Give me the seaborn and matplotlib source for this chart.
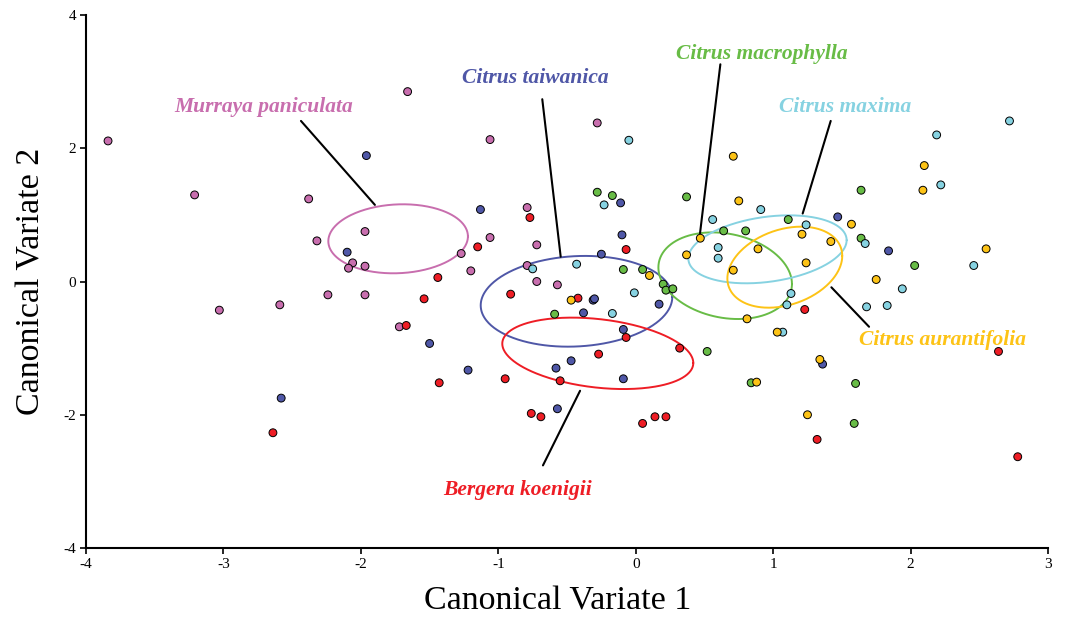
import numpy as np
import pandas as pd
import matplotlib
matplotlib.use("Agg")
import matplotlib.pyplot as plt
import seaborn as sns

# ---------------- data ----------------
species = ["Murraya paniculata", "Citrus taiwanica", "Bergera koenigii",
           "Citrus macrophylla", "Citrus maxima", "Citrus aurantifolia"]

murraya_x = [-3.84, -3.21, -2.38, -1.97, -2.32, -2.06, -2.09, -1.97, -2.24, -1.97, -3.03, -2.59,
             -1.72, -1.66, -1.06, -0.79, -1.06, -1.27, -0.72, -1.20, -0.79, -0.72, -0.28, -0.57]
murraya_y = [2.11, 1.30, 1.24, 0.75, 0.61, 0.28, 0.20, 0.23, -0.20, -0.20, -0.43, -0.35,
             -0.68, 2.85, 2.13, 1.11, 0.66, 0.42, 0.55, 0.16, 0.24, 0.00, 2.38, -0.05]

taiwanica_x = [-1.96, -2.10, -2.58, -1.13, -1.50, -1.22, -0.11, -0.10, -0.25, 0.17, -0.31, -0.30,
               -0.38, -0.09, -0.47, -0.58, -0.09, -0.57, 1.47, 1.84, 1.36]
taiwanica_y = [1.89, 0.44, -1.75, 1.08, -0.93, -1.33, 1.18, 0.70, 0.41, -0.34, -0.28, -0.26,
               -0.47, -0.72, -1.19, -1.30, -1.46, -1.91, 0.97, 0.46, -1.24]

bergera_x = [-2.64, -1.67, -0.77, -1.15, -1.44, -1.54, -0.91, -1.43, -0.95, -0.76, -0.07, -0.42,
             -0.07, 0.32, -0.27, -0.55, -0.69, 0.05, 0.14, 0.22, 1.23, 2.64, 1.32, 2.78]
bergera_y = [-2.27, -0.66, 0.96, 0.52, 0.06, -0.26, -0.19, -1.52, -1.46, -1.98, 0.48, -0.25,
             -0.84, -1.00, -1.09, -1.49, -2.03, -2.13, -2.03, -2.03, -0.42, -1.05, -2.37, -2.63]

macrophylla_x = [-0.28, -0.17, 0.37, 0.64, 0.80, -0.09, 0.05, 0.20, 0.22, 0.27, -0.59, 0.52,
                 0.84, 1.64, 1.11, 1.64, 2.03, 1.60, 1.59]
macrophylla_y = [1.34, 1.29, 1.27, 0.76, 0.76, 0.18, 0.18, -0.04, -0.13, -0.11, -0.49, -1.05,
                 -1.52, 1.37, 0.93, 0.65, 0.24, -1.53, -2.13]

maxima_x = [-0.75, -0.05, -0.23, 0.56, 0.60, 0.60, -0.43, -0.01, -0.17, 2.72, 2.19, 2.22,
            0.91, 1.24, 1.67, 2.46, 1.94, 1.13, 1.10, 1.68, 1.83, 1.07]
maxima_y = [0.19, 2.12, 1.15, 0.93, 0.51, 0.35, 0.26, -0.17, -0.48, 2.41, 2.20, 1.45,
            1.08, 0.85, 0.57, 0.24, -0.11, -0.18, -0.35, -0.38, -0.36, -0.76]

aurantifolia_x = [0.71, 0.75, 0.47, 0.37, 0.89, 0.71, 0.10, -0.47, 0.81, 0.88, 2.10, 2.09,
                  1.57, 1.21, 1.42, 2.55, 1.24, 1.75, 1.03, 1.34, 1.25]
aurantifolia_y = [1.88, 1.21, 0.65, 0.40, 0.49, 0.17, 0.09, -0.28, -0.56, -1.51, 1.74, 1.37,
                  0.86, 0.71, 0.60, 0.49, 0.28, 0.03, -0.76, -1.17, -2.00]

# ellipse centres, x/y semi-extents and tilt (correlation) in data units
ell_cx = [-1.729, -0.431, -0.276, 0.651, 0.959, 1.085]
ell_cy = [0.641, -0.297, -1.078, 0.087, 0.483, 0.215]
ell_hx = [0.508, 0.697, 0.695, 0.486, 0.576, 0.418]
ell_hy = [0.518, 0.681, 0.536, 0.650, 0.510, 0.608]
ell_rho = [0.07, 0.09, -0.27, -0.19, 0.27, 0.28]

# label positions (centre) and leader lines (start -> end)
label_x = [-2.705, -0.73, -0.86, 0.916, 1.527, 2.236]
label_y = [2.62, 3.05, -3.13, 3.42, 2.625, -0.878]
lead_x0 = [-2.436, -0.680, -0.675, 0.616, 1.419, 1.698]
lead_y0 = [2.41, 2.736, -2.76, 3.26, 2.41, -0.679]
lead_x1 = [-1.898, -0.546, -0.405, 0.468, 1.215, 1.424]
lead_y1 = [1.15, 0.372, -1.64, 0.724, 1.02, -0.087]

colors = ["#C86EAE", "#4F57A7", "#EE1D25", "#68BC46", "#86D2E1", "#FDC316"]

x_ticks = [-4, -3, -2, -1, 0, 1, 2, 3]
y_ticks = [-4, -2, 0, 2, 4]

# ---------------- build frame ----------------
xs = [murraya_x, taiwanica_x, bergera_x, macrophylla_x, maxima_x, aurantifolia_x]
ys = [murraya_y, taiwanica_y, bergera_y, macrophylla_y, maxima_y, aurantifolia_y]
frames = []
for sp, xv, yv in zip(species, xs, ys):
    frames.append(pd.DataFrame({"cv1": xv, "cv2": yv, "species": sp}))
df = pd.concat(frames, ignore_index=True)

# ---------------- plot ----------------
sns.set_theme(style="white")
plt.rcParams["font.family"] = ["Liberation Serif", "DejaVu Serif"]

fig = plt.figure(figsize=(10.65, 6.17), dpi=100)
ax = fig.add_axes([0.0808, 0.1118, 0.9032, 0.8639])

t = np.linspace(0, 2 * np.pi, 300)
for i in range(len(species)):
    d = np.arccos(ell_rho[i])
    ex = ell_cx[i] + ell_hx[i] * np.cos(t)
    ey = ell_cy[i] + ell_hy[i] * np.cos(t - d)
    ax.plot(ex, ey, color=colors[i], lw=1.4, zorder=2)

sns.scatterplot(data=df, x="cv1", y="cv2", hue="species", hue_order=species,
                palette=colors, s=32, edgecolor="black", linewidth=0.7,
                legend=False, ax=ax, zorder=3)

for i in range(len(species)):
    ax.plot([lead_x0[i], lead_x1[i]], [lead_y0[i], lead_y1[i]], color="black", lw=1.5, zorder=4)
    ax.text(label_x[i], label_y[i], species[i], color=colors[i], fontsize=15.5,
            fontstyle="italic", fontweight="bold", ha="center", va="center", zorder=5)

ax.set_xlim(-4, 3)
ax.set_ylim(-4, 4)
ax.set_xticks(x_ticks)
ax.set_yticks(y_ticks)
ax.set_xticklabels([str(v) for v in x_ticks], fontsize=11)
ax.set_yticklabels([str(v) for v in y_ticks], fontsize=11)
ax.tick_params(axis="both", direction="out", length=4, width=1.2, color="black",
               labelcolor="black", bottom=True, left=True, pad=3)
for side in ["top", "right"]:
    ax.spines[side].set_visible(False)
for side in ["left", "bottom"]:
    ax.spines[side].set_color("black")
    ax.spines[side].set_linewidth(1.5)

ax.set_xlabel("Canonical Variate 1", fontsize=24.5, color="black", labelpad=11)
ax.set_ylabel("Canonical Variate 2", fontsize=24.5, color="black", labelpad=12)
ax.xaxis.label.set_x(0.49)
ax.grid(False)

fig.savefig("out.png", dpi=100)
